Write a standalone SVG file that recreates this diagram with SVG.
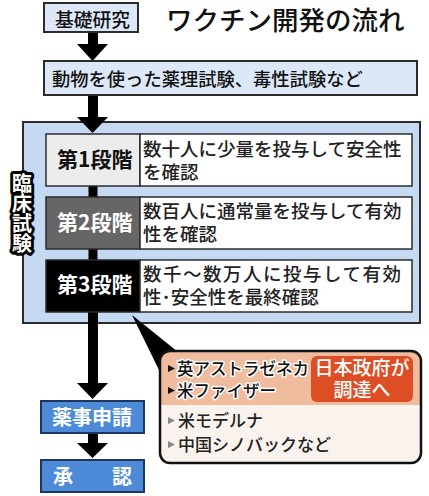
<svg xmlns="http://www.w3.org/2000/svg" width="429" height="496" viewBox="0 0 429 496">
<style>
text{font-family:"Noto Sans CJK JP","Noto Sans CJK SC",sans-serif}
.lb{fill:#dce8f7;stroke:#2b2b2b;stroke-width:2}
.big{fill:#c5d9f3;stroke:#2b2b2b;stroke-width:2}
.cell{stroke:#2b2b2b;stroke-width:1.5}
.desc{font-size:18.5px;fill:#222;font-weight:500}
.stg{font-size:21px;font-weight:bold}
.blue{fill:#4d8bd8;stroke:#1e3560;stroke-width:2}
.wt{fill:#fff;font-size:20px;font-weight:bold}
.arr{fill:#000}
.co{font-size:16.5px;fill:#111;font-weight:500;stroke:#fff;stroke-width:3;paint-order:stroke;stroke-linejoin:round}
.co2{font-size:17px;fill:#222;font-weight:500}
</style>

<g id="title"><text x="166" y="30" font-size="26.5" font-weight="500" fill="#111">ワクチン開発の流れ</text></g>

<g id="clinical">
<rect class="big" x="23" y="122" width="397" height="201"/>
</g>

<g id="connectors">
<rect class="arr" x="88" y="32" width="10" height="13"/>
<polygon class="arr" points="77,44 108,44 92.5,61"/>
<rect class="arr" x="88" y="95" width="10" height="23"/>
<polygon class="arr" points="77,117 108,117 92.5,133"/>
<rect class="arr" x="88.5" y="185" width="9" height="13"/>
<rect class="arr" x="88.5" y="248" width="9" height="13"/>
<rect class="arr" x="88" y="312" width="10" height="72"/>
<polygon class="arr" points="77,383 108,383 92.5,399"/>
<rect class="arr" x="88" y="432" width="10" height="12"/>
<polygon class="arr" points="77,443 108,443 92.5,458"/>
<polygon class="arr" points="132,315 178,352 160,372"/>
</g>

<g id="basic">
<rect class="lb" x="44" y="3" width="94" height="29"/>
<text x="55" y="26.5" font-size="18.8" font-weight="500" fill="#111">基礎研究</text>
</g>

<g id="animal">
<rect class="lb" x="44" y="61" width="373" height="34"/>
<text x="52" y="86" font-size="18.3" font-weight="500" fill="#111">動物を使った薬理試験、毒性試験など</text>
</g>

<g id="clinical-label">
<text x="22" y="173" writing-mode="tb" font-size="20" font-weight="bold" fill="#fff" stroke="#000" stroke-width="6" stroke-linejoin="round" paint-order="stroke">臨床試験</text>
</g>

<g id="phase1">
<rect class="cell" x="46" y="134" width="94" height="52" fill="#ececec"/>
<rect class="cell" x="140" y="134" width="272" height="52" fill="#fff"/>
<text class="stg" x="57" y="167" fill="#111">第1段階</text>
<text class="desc"><tspan x="143" y="156">数十人に少量を投与して安全性</tspan><tspan x="143" y="179">を確認</tspan></text>
</g>

<g id="phase2">
<rect class="cell" x="46" y="197" width="94" height="52" fill="#666"/>
<rect class="cell" x="140" y="197" width="272" height="52" fill="#fff"/>
<text class="stg" x="57" y="230" fill="#fff">第2段階</text>
<text class="desc"><tspan x="143" y="218">数百人に通常量を投与して有効</tspan><tspan x="143" y="241">性を確認</tspan></text>
</g>

<g id="phase3">
<rect class="cell" x="46" y="260" width="94" height="52" fill="#000"/>
<rect class="cell" x="140" y="260" width="272" height="52" fill="#fff"/>
<text class="stg" x="57" y="292" fill="#fff">第3段階</text>
<text class="desc"><tspan x="143" y="281" letter-spacing="1.5">数千～数万人に投与して有効</tspan><tspan x="143" y="304" letter-spacing="0">性･安全性を最終確認</tspan></text>
</g>

<g id="application">
<rect class="blue" x="41" y="401" width="103" height="32"/>
<text class="wt" x="52" y="424.5">薬事申請</text>
</g>

<g id="approval">
<rect class="blue" x="41" y="460" width="103" height="32"/>
<text class="wt" x="53" y="484" textLength="79" lengthAdjust="spacing">承認</text>
</g>

<g id="callout">
<clipPath id="cc"><rect x="160" y="351" width="261" height="112" rx="10"/></clipPath>
<g clip-path="url(#cc)">
<rect x="160" y="351" width="261" height="112" fill="#faf2ec"/>
<rect x="160" y="351" width="261" height="54" fill="#f0bc9e"/>
</g>
<rect x="160" y="351" width="261" height="112" rx="10" fill="none" stroke="#111" stroke-width="2.5"/>
<rect x="311" y="356" width="102" height="46" rx="6" fill="#dd4e25"/>
<text font-size="19" font-weight="500" fill="#fff" text-anchor="middle"><tspan x="362" y="375">日本政府が</tspan><tspan x="362" y="397">調達へ</tspan></text>
<polygon points="168,365 175,368.5 168,372" fill="#111"/>
<polygon points="168,387 175,390.5 168,394" fill="#111"/>
<polygon points="168,417 175,420.5 168,424" fill="#888"/>
<polygon points="168,441 175,444.5 168,448" fill="#888"/>
<text class="co"><tspan x="177" y="375">英アストラゼネカ</tspan><tspan x="177" y="397">米ファイザー</tspan></text>
<text class="co2"><tspan x="178" y="427">米モデルナ</tspan><tspan x="178" y="451">中国シノバックなど</tspan></text>
</g>
</svg>
